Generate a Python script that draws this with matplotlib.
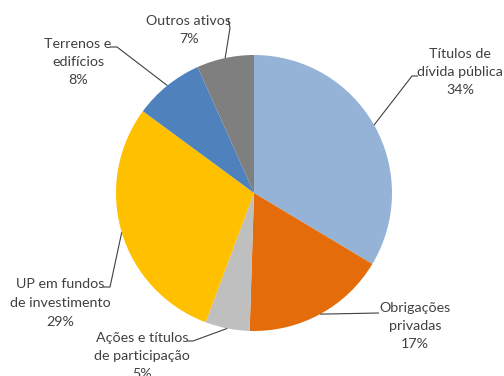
import numpy as np
import matplotlib.pyplot as plt

# asset allocation, clockwise from 12 o'clock
labels = ["Títulos de\ndívida pública", "Obrigações\nprivadas", "Ações e títulos\nde participação",
          "UP em fundos\nde investimento", "Terrenos e\nedifícios", "Outros ativos"]
shares = [33.6, 16.9, 5.2, 29.4, 8.2, 6.7]
colors = ["#95b3d7", "#e46c0a", "#bfbfbf", "#ffc000", "#4f81bd", "#7f7f7f"]

W, H = 504, 376
cx, cy, rad = 254, H - 193, 138

# label block centres and leader elbows (pixel coords, y from top)
text_pos = [(460, 72), (415, 326), (142, 356), (60, 303), (78, 62), (189, 30)]
elbows = [[(418, 76), (412, 76)], [(379, 313)], [(187, 341), (193, 341)],
          [(103, 287), (110, 287)], [(110, 47), (117, 47)], [(228, 19), (230, 28)]]

plt.rcParams['font.family'] = ['Lato', 'DejaVu Sans']
fig = plt.figure(figsize=(W / 100, H / 100), dpi=100)
ax = fig.add_axes([0, 0, 1, 1])

wedges, _ = ax.pie(shares, colors=colors, startangle=90, counterclock=False,
                   center=(cx, cy), radius=rad, wedgeprops=dict(linewidth=0))
ax.set_xlim(0, W)
ax.set_ylim(0, H)
ax.set_aspect('auto')
ax.axis('off')

for w, lab, val, (tx, ty), pts in zip(wedges, labels, shares, text_pos, elbows):
    # leader runs from the label to the middle of the wedge's outer arc
    mid = np.deg2rad((w.theta1 + w.theta2) / 2)
    xs = [p[0] for p in pts] + [cx + rad * np.cos(mid)]
    ys = [H - p[1] for p in pts] + [cy + rad * np.sin(mid)]
    ax.plot(xs, ys, color="#404040", lw=0.8, solid_capstyle='butt')
    ax.text(tx, H - ty, f"{lab}\n{val:.0f}%", ha='center', va='center', fontsize=10.3,
            color="#404040", linespacing=1.65, multialignment='center')

fig.savefig("out.png", dpi=100)
